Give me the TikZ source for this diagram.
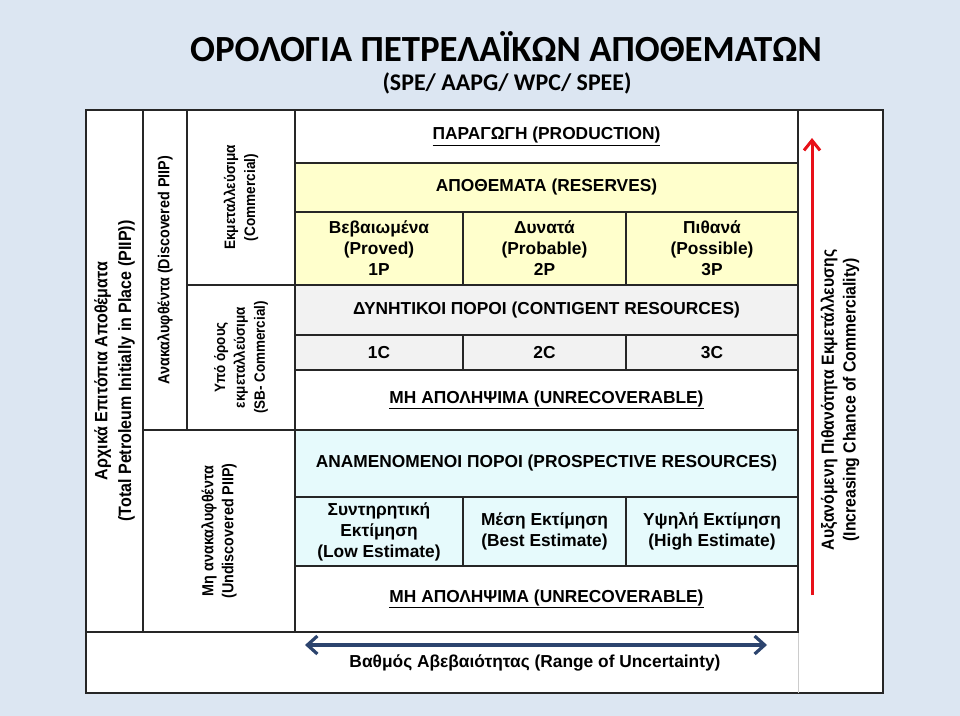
\documentclass[tikz,border=0pt]{standalone}
\usepackage{fontspec}
\setmainfont{Liberation Sans}
\newfontfamily\titlefont{Carlito}
\newfontfamily\narrowfont[FakeStretch=0.9]{Liberation Sans}
\usepackage{xcolor}
\usepackage{tikz}
\usetikzlibrary{arrows.meta, positioning}

\definecolor{slidebg}{RGB}{220,230,242}
\definecolor{resyellow}{RGB}{255,255,204}
\definecolor{contgray}{RGB}{242,242,242}
\definecolor{prospcyan}{RGB}{230,250,252}
\definecolor{uncblue}{RGB}{44,68,110}
\definecolor{chancered}{RGB}{232,16,24}

% rotated label font at a given size
\newcommand{\vfont}[2]{\narrowfont\bfseries\fontsize{#1}{#2}\selectfont}

\begin{document}
\begin{tikzpicture}[
    x=1bp, y=-1bp,
    % basic styles
    every node/.style={inner sep=0pt, outer sep=0pt, align=center,
        font=\bfseries\fontsize{17.4}{21}\selectfont},
    % table cells
    cell/.style={draw=black!85, line width=1.2bp, anchor=north west},
    % rotated column labels
    vlabel/.style={rotate=90},
    % arrows
    unc/.style={draw=uncblue, line width=3.2bp, {Straight Barb[length=10bp, width=18bp, line width=3.2bp]}-{Straight Barb[length=10bp, width=18bp, line width=3.2bp]}},
    chance/.style={draw=chancered, line width=3bp, -{Straight Barb[length=10bp, width=16bp, line width=3bp]}}
]

% background and frame
\fill[slidebg] (0,0) rectangle (960,716);
\useasboundingbox (0,0) rectangle (960,716);
\node[draw=black!85, fill=white, line width=1.5bp, anchor=north west,
    minimum width=797bp, minimum height=583bp] (frame) at (86,110) {};
\draw[black!20, line width=1bp] (798,632) -- (798,693);

% title
\node[font=\titlefont\bfseries\fontsize{37}{42}\selectfont] (title) at (506,47)
    {ΟΡΟΛΟΓΙΑ ΠΕΤΡΕΛΑΪΚΩΝ ΑΠΟΘΕΜΑΤΩΝ};
\node[font=\titlefont\bfseries\fontsize{24}{28}\selectfont] (subtitle) at (507,83)
    {(SPE/ AAPG/ WPC/ SPEE)};

% left columns
\node[cell, minimum width=57bp, minimum height=522bp] (piip) at (86,110) {};
\node[vlabel, font=\vfont{17.9}{24}] at (piip.center) {Αρχικά Επιτόπια Αποθέματα\\(Total Petroleum Initially in Place (PIIP))};
\node[cell, minimum width=44bp, minimum height=320bp] (disc) at (143,110) {};
\node[vlabel, font=\vfont{16}{20}] at (disc.center) {Ανακαλυφθέντα (Discovered PIIP)};
\node[cell, minimum width=108bp, minimum height=175bp] (comm) at (187,110) {};
\node[vlabel, font=\vfont{15.2}{20}] at (comm.center) {Εκμεταλλεύσιμα\\(Commercial)};
\node[cell, minimum width=108bp, minimum height=145bp] (sbcomm) at (187,285) {};
\node[vlabel, font=\vfont{15}{20}] at (sbcomm.center) {Υπό όρους\\εκμεταλλεύσιμα\\(SB- Commercial)};
\node[cell, minimum width=152bp, minimum height=202bp] (undisc) at (143,430) {};
\node[vlabel, font=\vfont{16}{20}] at (undisc.center) {Μη ανακαλυφθέντα\\(Undiscovered PIIP)};

% production and reserves
\node[cell, minimum width=503bp, minimum height=53bp] (prod) at (295,110) {\underline{ΠΑΡΑΓΩΓΗ (PRODUCTION)}};
\node[cell, fill=resyellow, minimum width=503bp, minimum height=49bp] (reserves) at (295,163) {ΑΠΟΘΕΜΑΤΑ (RESERVES)};
\node[cell, fill=resyellow, minimum width=168bp, minimum height=73bp] (proved) at (295,212) {Βεβαιωμένα\\(Proved)\\1P};
\node[cell, fill=resyellow, minimum width=163bp, minimum height=73bp] (probable) at (463,212) {Δυνατά\\(Probable)\\2P};
\node[cell, fill=resyellow, minimum width=172bp, minimum height=73bp] (possible) at (626,212) {Πιθανά\\(Possible)\\3P};

% contingent resources
\node[cell, fill=contgray, minimum width=503bp, minimum height=50bp] (contingent) at (295,285) {ΔΥΝΗΤΙΚΟΙ ΠΟΡΟΙ (CONTIGENT RESOURCES)};
\node[cell, fill=contgray, minimum width=168bp, minimum height=35bp] (c1) at (295,335) {1C};
\node[cell, fill=contgray, minimum width=163bp, minimum height=35bp] (c2) at (463,335) {2C};
\node[cell, fill=contgray, minimum width=172bp, minimum height=35bp] (c3) at (626,335) {3C};
\node[cell, minimum width=503bp, minimum height=60bp] (unrecA) at (295,370) {\underline{ΜΗ ΑΠΟΛΗΨΙΜΑ (UNRECOVERABLE)}};

% prospective resources
\node[cell, fill=prospcyan, minimum width=503bp, minimum height=67bp] (prospective) at (295,430) {ΑΝΑΜΕΝΟΜΕΝΟΙ ΠΟΡΟΙ (PROSPECTIVE RESOURCES)};
\node[cell, fill=prospcyan, minimum width=168bp, minimum height=69bp] (low) at (295,497) {Συντηρητική\\Εκτίμηση\\(Low Estimate)};
\node[cell, fill=prospcyan, minimum width=163bp, minimum height=69bp] (best) at (463,497) {Μέση Εκτίμηση\\(Best Estimate)};
\node[cell, fill=prospcyan, minimum width=172bp, minimum height=69bp] (high) at (626,497) {Υψηλή Εκτίμηση\\(High Estimate)};
\node[cell, minimum width=503bp, minimum height=66bp] (unrecB) at (295,566) {\underline{ΜΗ ΑΠΟΛΗΨΙΜΑ (UNRECOVERABLE)}};
\draw[black!85, line width=1.2bp] (piip.south west) -- (unrecB.south east);

% range of uncertainty
\coordinate (unc-l) at (305,645);
\coordinate (unc-r) at (767,645);
\draw[unc] (unc-l) -- (unc-r);
\node (unclabel) at (535,663) {Βαθμός Αβεβαιότητας (Range of Uncertainty)};

% chance of commerciality
\coordinate (chance-lo) at (812,595);
\coordinate (chance-hi) at (812,138);
\draw[chance] (chance-lo) -- (chance-hi);
\node[vlabel, font=\vfont{17.6}{22}] (chancelabel) at (840,400)
    {Αυξανόμενη Πιθανότητα Εκμετάλλευσης\\(Increasing Chance of Commerciality)};

\end{tikzpicture}
\end{document}
